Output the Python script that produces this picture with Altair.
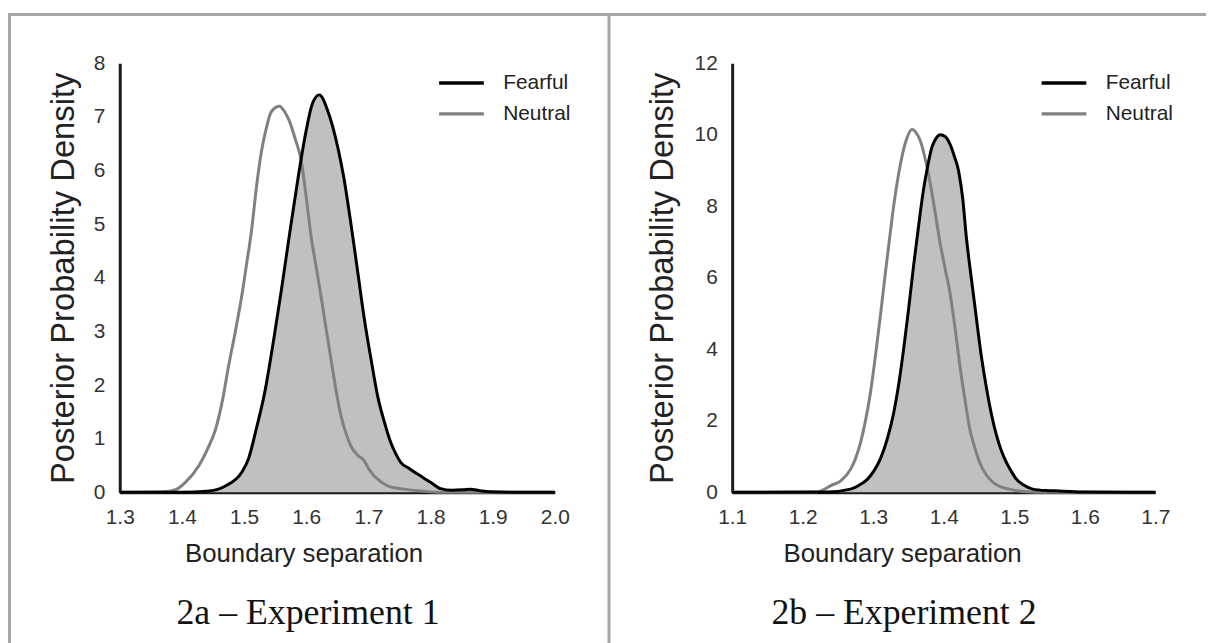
import altair as alt
import pandas as pd

SERIES = ["Fearful", "Neutral"]
CAPTIONS = ["2a – Experiment 1", "2b – Experiment 2"]
X_TITLE = "Boundary separation"
Y_TITLE = "Posterior Probability Density"

# Experiment 1
e1_x_ticks = [1.3, 1.4, 1.5, 1.6, 1.7, 1.8, 1.9, 2.0]
e1_y_ticks = [0, 1, 2, 3, 4, 5, 6, 7, 8]
e1_fear_x = [1.30, 1.40, 1.44, 1.47, 1.496, 1.507, 1.52, 1.533, 1.547, 1.560, 1.573, 1.587,
             1.600, 1.610, 1.621, 1.635, 1.651, 1.660, 1.672, 1.683, 1.693, 1.704, 1.715,
             1.726, 1.736, 1.745, 1.752, 1.765, 1.779, 1.790, 1.800, 1.816, 1.835, 1.853,
             1.864, 1.880, 1.896, 1.95, 2.00]
e1_fear_y = [0.0, 0.0, 0.02, 0.12, 0.37, 0.62, 1.2, 1.85, 2.8, 3.77, 4.8, 5.87,
             6.75, 7.25, 7.41, 7.10, 6.42, 5.9, 5.0, 4.1, 3.27, 2.5, 1.79,
             1.3, 0.93, 0.70, 0.56, 0.45, 0.34, 0.26, 0.19, 0.07, 0.04, 0.05,
             0.06, 0.03, 0.01, 0.0, 0.0]
e1_neut_x = [1.30, 1.37, 1.39, 1.406, 1.427, 1.44, 1.454, 1.465, 1.475, 1.486, 1.496, 1.504,
             1.512, 1.520, 1.528, 1.536, 1.544, 1.557, 1.565, 1.573, 1.582, 1.592, 1.600,
             1.608, 1.616, 1.624, 1.632, 1.640, 1.648, 1.656, 1.664, 1.672, 1.682, 1.693,
             1.700, 1.709, 1.720, 1.731, 1.745, 1.757, 1.789, 1.82, 2.00]
e1_neut_y = [0.0, 0.01, 0.05, 0.19, 0.49, 0.78, 1.17, 1.7, 2.35, 3.0, 3.64, 4.25,
             4.88, 5.7, 6.36, 6.8, 7.10, 7.20, 7.10, 6.92, 6.6, 6.18, 5.5,
             4.76, 4.2, 3.64, 3.05, 2.47, 1.9, 1.42, 1.1, 0.86, 0.70, 0.59,
             0.45, 0.31, 0.20, 0.12, 0.08, 0.06, 0.02, 0.0, 0.0]

# Experiment 2
e2_x_ticks = [1.1, 1.2, 1.3, 1.4, 1.5, 1.6, 1.7]
e2_y_ticks = [0, 2, 4, 6, 8, 10, 12]
e2_fear_x = [1.10, 1.235, 1.268, 1.280, 1.292, 1.301, 1.310, 1.320, 1.329, 1.336, 1.343,
             1.350, 1.357, 1.364, 1.371, 1.377, 1.383, 1.389, 1.395, 1.402, 1.409, 1.415,
             1.421, 1.427, 1.432, 1.439, 1.446, 1.453, 1.461, 1.468, 1.475, 1.482, 1.489,
             1.496, 1.503, 1.514, 1.526, 1.545, 1.564, 1.60, 1.70]
e2_fear_y = [0.0, 0.01, 0.09, 0.2, 0.37, 0.6, 0.93, 1.5, 2.22, 3.0, 3.99,
             5.1, 6.30, 7.4, 8.43, 9.1, 9.64, 9.9, 10.0, 9.95, 9.73, 9.4,
             8.99, 8.2, 7.14, 6.0, 4.91, 3.85, 2.87, 2.15, 1.58, 1.15, 0.83,
             0.58, 0.37, 0.2, 0.09, 0.05, 0.04, 0.01, 0.0]
e2_neut_x = [1.10, 1.221, 1.232, 1.240, 1.254, 1.268, 1.275, 1.282, 1.289, 1.296, 1.303,
             1.310, 1.317, 1.324, 1.330, 1.336, 1.342, 1.348, 1.355, 1.361, 1.367, 1.374,
             1.381, 1.388, 1.395, 1.402, 1.409, 1.416, 1.423, 1.430, 1.437, 1.444, 1.451,
             1.460, 1.470, 1.480, 1.493, 1.517, 1.55, 1.70]
e2_neut_y = [0.0, 0.01, 0.1, 0.19, 0.32, 0.65, 0.95, 1.39, 2.0, 2.78, 3.8,
             4.91, 6.1, 7.23, 8.15, 8.90, 9.5, 9.92, 10.15, 10.05, 9.82, 9.3,
             8.62, 7.8, 6.95, 6.25, 5.56, 4.6, 3.52, 2.6, 1.76, 1.25, 0.83,
             0.5, 0.28, 0.16, 0.09, 0.02, 0.0, 0.0]

SANS = "Liberation Sans, Arial, sans-serif"
SERIF = "Liberation Serif, Times New Roman, serif"
BORDER = "#a6a6a6"
PLOT_H = 432


def panel(fx, fy, nx, ny, x_ticks, y_ticks, width, leg_x, ytitle_x, xtitle_x,
          caption, cap_x, left_edge, right_edge, divider_x):
    fear = pd.DataFrame({"x": fx, "y": fy, "series": SERIES[0]})
    neut = pd.DataFrame({"x": nx, "y": ny, "series": SERIES[1]})

    xenc = alt.X("x:Q",
                 scale=alt.Scale(domain=[x_ticks[0], x_ticks[-1]], nice=False, zero=False),
                 axis=alt.Axis(values=x_ticks, format=".1f", title=X_TITLE, grid=False,
                               ticks=False, domainColor="#1a1a1a", domainWidth=3,
                               labelFont=SANS, labelFontSize=21, labelColor="#333333",
                               labelPadding=14, labelFlush=False,
                               titleFont=SANS, titleFontSize=26, titleFontWeight="normal",
                               titleColor="#222222", titleX=xtitle_x, titleY=70,
                               titleAlign="center", titleBaseline="alphabetic"))
    yenc = alt.Y("y:Q",
                 scale=alt.Scale(domain=[y_ticks[0], y_ticks[-1]], nice=False),
                 axis=alt.Axis(values=y_ticks, title=Y_TITLE, grid=False, ticks=False,
                               domainColor="#1a1a1a", domainWidth=3,
                               labelFont=SANS, labelFontSize=21, labelColor="#333333",
                               labelPadding=15, labelFlush=False,
                               titleFont=SANS, titleFontSize=33, titleFontWeight="normal",
                               titleColor="#222222", titleX=ytitle_x, titleY=PLOT_H / 2,
                               titleAngle=270, titleAlign="center",
                               titleBaseline="alphabetic"))
    color = alt.Color("series:N",
                      scale=alt.Scale(domain=SERIES, range=["#000000", "#808080"]),
                      legend=alt.Legend(title=None, orient="none", legendX=leg_x, legendY=8,
                                        direction="vertical", symbolType="M-2.25,0H2.25",
                                        symbolSize=400, symbolStrokeWidth=3.5,
                                        labelFont=SANS, labelFontSize=21,
                                        labelColor="#222222", labelOffset=30,
                                        rowPadding=9, padding=0))

    area = alt.Chart(fear).mark_area(color="#c0c0c0", interpolate="monotone").encode(
        x=xenc, y=yenc)
    neut_line = alt.Chart(neut).mark_line(strokeWidth=3, interpolate="monotone").encode(
        x=xenc, y=yenc, color=color)
    fear_line = alt.Chart(fear).mark_line(strokeWidth=3, interpolate="monotone").encode(
        x=xenc, y=yenc, color=color)

    one = pd.DataFrame({"t": [caption]})
    cap = alt.Chart(one).mark_text(font=SERIF, fontSize=36, align="center",
                                   baseline="alphabetic", color="#111111").encode(
        x=alt.value(cap_x), y=alt.value(565), text="t:N")
    top = alt.Chart(one).mark_rule(color=BORDER, strokeWidth=3).encode(
        x=alt.value(left_edge), x2=alt.value(right_edge), y=alt.value(-49))
    side = alt.Chart(one).mark_rule(color=BORDER, strokeWidth=3).encode(
        x=alt.value(divider_x), y=alt.value(-49), y2=alt.value(600))

    return alt.layer(top, side, area, neut_line, fear_line, cap).properties(
        width=width, height=PLOT_H)


p1 = panel(e1_fear_x, e1_fear_y, e1_neut_x, e1_neut_y, e1_x_ticks, e1_y_ticks, 438,
           332, -46.5, 185, CAPTIONS[0], 189.5, -112.5, 492, -111)
p2 = panel(e2_fear_x, e2_fear_y, e2_neut_x, e2_neut_y, e2_x_ticks, e2_y_ticks, 426,
           322, -60, 171, CAPTIONS[1], 173, -125, 480, -124)

chart = alt.hconcat(p1, p2, spacing=178.5, bounds="flush").resolve_scale(
    color="independent").resolve_legend(color="independent").properties(
    autosize=alt.AutoSizeParams(type="none"),
    padding={"left": 112.5, "top": 52, "right": 1093.5, "bottom": 592}
).configure_view(strokeWidth=0)

chart.save("out.html", embed_options={"renderer": "svg", "actions": False})
